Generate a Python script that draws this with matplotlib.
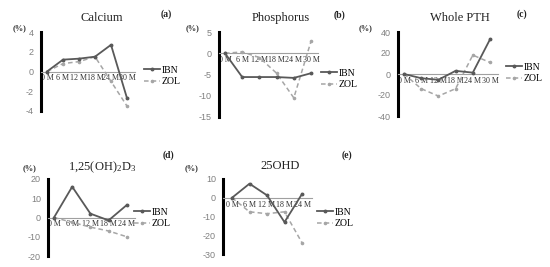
import matplotlib
matplotlib.use("Agg")
import matplotlib.pyplot as plt
from matplotlib.lines import Line2D

plt.rcParams["mathtext.fontset"] = "custom"
plt.rcParams["mathtext.rm"] = "Liberation Serif"
plt.rcParams["mathtext.it"] = "Liberation Serif:italic"
plt.rcParams["mathtext.bf"] = "Liberation Serif:bold"

W, H = 550, 267

months6 = ["0 M", "6 M", "12 M", "18 M", "24 M", "30 M"]
months5 = ["0 M", "6 M", "12 M", "18 M", "24 M"]

calcium_ibn = [0, 1.2, 1.3, 1.5, 2.7, -2.7]
calcium_zol = [0, 0.8, 1.0, 1.5, -1.0, -3.5]
phos_ibn = [0, -5.6, -5.6, -5.6, -5.8, -4.7]
phos_zol = [0, 0.3, -1.0, -4.7, -10.5, 2.8]
pth_ibn = [0, -4, -5.5, 3, 1.3, 33]
pth_zol = [0, -14, -21, -14, 18, 11]
d3_ibn = [0, 16, 2, -1.5, 6.5]
d3_zol = [0, -2.5, -5, -7, -10]
ohd_ibn = [0, 7.5, 1.3, -13, 2]
ohd_zol = [0, -7.5, -8.5, -7.5, -24]

yticks_a = [-4, -2, 0, 2, 4]
yticks_b = [-15, -10, -5, 0, 5]
yticks_c = [-40, -20, 0, 20, 40]
yticks_d = [-20, -10, 0, 10, 20]
yticks_e = [-30, -20, -10, 0, 10]

fig = plt.figure(figsize=(W / 100, H / 100), dpi=100)
fig.patch.set_facecolor("white")

SERIF = "Liberation Serif"
SANS = "Liberation Sans"
IBN_C = "#595959"
ZOL_C = "#a6a6a6"

def fx(x):
    return x / W

def fy(y):
    return 1 - y / H

panels = [
    dict(L=41, R=135, T=32, B=111, P0=47, S=16.0, lab=months6, ibn=calcium_ibn, zol=calcium_zol,
         yt=yticks_a, title="Calcium", tag="(a)", tp=(102, 18), gp=(166, 14), pp=(20, 28), lg=(144, 76)),
    dict(L=219, R=318, T=32, B=117, P0=225, S=17.2, lab=months6, ibn=phos_ibn, zol=phos_zol,
         yt=yticks_b, title="Phosphorus", tag="(b)", tp=(281, 18), gp=(339, 15), pp=(193, 28), lg=(321, 79)),
    dict(L=398, R=498, T=32, B=116, P0=404, S=17.2, lab=months6, ibn=pth_ibn, zol=pth_zol,
         yt=yticks_c, title="Whole PTH", tag="(c)", tp=(460, 18), gp=(522, 14), pp=(366, 28), lg=(506, 73)),
    dict(L=48, R=135, T=179, B=256, P0=54, S=18.2, lab=months5, ibn=d3_ibn, zol=d3_zol,
         yt=yticks_d, title="1,25(OH)$_2$D$_3$", tag="(d)", tp=(102, 167), gp=(168, 155), pp=(30, 168), lg=(134, 218)),
    dict(L=223, R=312, T=179, B=254, P0=232, S=17.5, lab=months5, ibn=ohd_ibn, zol=ohd_zol,
         yt=yticks_e, title="25OHD", tag="(e)", tp=(280, 166), gp=(347, 155), pp=(192, 168), lg=(317, 218)),
]

for p in panels:
    ax = fig.add_axes([fx(p["L"]), fy(p["B"]), fx(p["R"] - p["L"]), (p["B"] - p["T"]) / H])
    n = len(p["lab"])
    xmin = -(p["P0"] - p["L"]) / p["S"]
    xmax = (p["R"] - p["P0"]) / p["S"]
    ax.set_xlim(xmin, xmax)
    ax.set_ylim(min(p["yt"]), max(p["yt"]))
    xs = list(range(n))
    ax.plot(xs, p["zol"], color=ZOL_C, lw=1.1, ls=(0, (3, 2)), marker="o", ms=1.6, zorder=3)
    ax.plot(xs, p["ibn"], color=IBN_C, lw=1.3, marker="o", ms=1.8, zorder=4)
    for s in ["top", "right"]:
        ax.spines[s].set_visible(False)
    ax.spines["left"].set_linewidth(2.2)
    ax.spines["left"].set_color("black")
    ax.spines["bottom"].set_position(("data", 0))
    ax.spines["bottom"].set_color("#a0a0a0")
    ax.spines["bottom"].set_linewidth(0.8)
    ax.set_yticks(p["yt"])
    ax.set_yticklabels([str(v) for v in p["yt"]], fontfamily=SANS, fontsize=6.5, color="#808080")
    ax.tick_params(axis="y", length=0, pad=5)
    ax.set_xticks(xs)
    ax.set_xticklabels(p["lab"], fontfamily=SERIF, fontsize=5.8, color="#333333")
    ax.tick_params(axis="x", length=0, pad=2)
    ax.patch.set_alpha(0)
    fig.text(fx(p["tp"][0]), fy(p["tp"][1]), p["title"], ha="center", va="center",
             fontfamily=SERIF, fontsize=9, color="#222222")
    fig.text(fx(p["gp"][0]), fy(p["gp"][1]), p["tag"], ha="center", va="center",
             fontfamily=SERIF, fontsize=7, fontweight="bold", color="#222222")
    fig.text(fx(p["pp"][0]), fy(p["pp"][1]), "(%)", ha="center", va="center",
             fontfamily=SERIF, fontsize=6, fontweight="bold", color="#333333")
    handles = [Line2D([], [], color=IBN_C, lw=1.3, marker="o", ms=1.8),
               Line2D([], [], color=ZOL_C, lw=1.1, ls=(0, (3, 2)), marker="o", ms=1.6)]
    fig.legend(handles, ["IBN", "ZOL"], loc="center left",
               bbox_to_anchor=(fx(p["lg"][0]), fy(p["lg"][1])), frameon=False,
               prop={"family": SERIF, "size": 7}, handlelength=1.6, handletextpad=0.2,
               labelspacing=0.3, borderpad=0, borderaxespad=0)

fig.savefig("out.png", dpi=100, facecolor="white")
